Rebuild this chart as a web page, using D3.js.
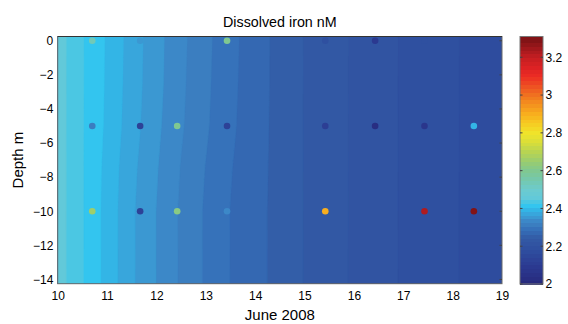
<!DOCTYPE html>
<html><head><meta charset="utf-8">
<script src="https://cdn.jsdelivr.net/npm/d3@7"></script>
<style>
body{margin:0;background:#fff}
text{font-family:"Liberation Sans",Arial,Helvetica,sans-serif;fill:#000}
</style>
</head><body>
<svg id="chart" width="568" height="324"></svg>
<script>
// ---------------- data ----------------
const title = "Dissolved iron nM";
const xLabel = "June 2008";
const yLabel = "Depth m";
const xTicks = [10, 11, 12, 13, 14, 15, 16, 17, 18, 19];
const yTicks = [0, -2, -4, -6, -8, -10, -12, -14];
const cbTicks = [2, 2.2, 2.4, 2.6, 2.8, 3, 3.2];

// background (gridded) field: columns = days, rows = depths
const gridDays = [10, 10.5, 11, 11.5, 12, 12.5, 13, 13.5, 14, 14.5, 15, 15.5, 16, 16.5, 17, 17.5, 18, 18.5, 19];
const gridDepths = [0.25, -2.5, -5, -7.5, -10, -14.25];
const fieldRow0   = [2.457, 2.428, 2.404, 2.377, 2.3525, 2.330, 2.310, 2.290, 2.274, 2.257, 2.243, 2.232, 2.221, 2.211, 2.201, 2.193, 2.185, 2.177, 2.169];
const fieldRow2_5 = [2.457, 2.428, 2.4035, 2.376, 2.352, 2.329, 2.309, 2.289, 2.274, 2.257, 2.243, 2.232, 2.221, 2.211, 2.201, 2.193, 2.185, 2.177, 2.169];
const fieldRow5   = [2.457, 2.428, 2.4025, 2.3745, 2.350, 2.3275, 2.3075, 2.288, 2.273, 2.257, 2.243, 2.232, 2.221, 2.211, 2.201, 2.193, 2.185, 2.177, 2.169];
const fieldRow7_5 = [2.457, 2.428, 2.400, 2.371, 2.347, 2.324, 2.304, 2.2855, 2.272, 2.257, 2.243, 2.232, 2.221, 2.211, 2.201, 2.193, 2.185, 2.177, 2.169];
const fieldRow10  = [2.457, 2.428, 2.399, 2.369, 2.345, 2.322, 2.302, 2.284, 2.271, 2.257, 2.243, 2.232, 2.221, 2.211, 2.201, 2.193, 2.185, 2.177, 2.169];
const fieldRow14  = [2.457, 2.428, 2.399, 2.369, 2.345, 2.322, 2.302, 2.284, 2.271, 2.257, 2.243, 2.232, 2.221, 2.211, 2.201, 2.193, 2.185, 2.177, 2.169];
const fieldRows = [fieldRow0, fieldRow2_5, fieldRow5, fieldRow7_5, fieldRow10, fieldRow14];

// sample points
const stationDays = [10.7, 11.67, 12.42, 13.43, 15.42, 16.43, 17.43, 18.43];
const sampleDepths = [0, -5, -10];
const surfaceFe = [2.53, 2.36, null, 2.59, 2.20, 2.10, 2.20, null];
const midFe     = [2.31, 2.13, 2.60, 2.13, 2.12, 2.03, 2.07, 2.39];
const deepFe    = [2.66, 2.13, 2.62, 2.345, 2.90, null, 3.23, 3.28];
const sampleValues = [surfaceFe, midFe, deepFe];

// colour limits
const cMin = 2, cMax = 3.3, nColors = 64;

// ---------------- style ----------------
const cmapStops = [
  [2.000,"#26287a"],[2.050,"#293287"],[2.100,"#2b3b92"],[2.140,"#2d4498"],
  [2.1727,"#2e4c9e"],[2.1930,"#2f50a0"],[2.2133,"#3154a2"],[2.2336,"#3258a4"],
  [2.2539,"#335ea8"],[2.2742,"#3468b2"],[2.2945,"#3672ba"],[2.3148,"#3b7ec0"],
  [2.3352,"#3c88c8"],[2.3555,"#3b98d2"],[2.3758,"#38a6dc"],[2.3961,"#33b5e6"],
  [2.4164,"#33c5ef"],[2.4367,"#4bc7e3"],[2.4570,"#62c9d9"],[2.500,"#6ccbcf"],
  [2.550,"#74c8b0"],[2.600,"#80c890"],[2.650,"#98cc70"],[2.700,"#b8d452"],
  [2.750,"#d8de3a"],[2.800,"#f0e42a"],[2.850,"#f6cc22"],[2.900,"#f8b01e"],
  [2.950,"#f4921e"],[3.000,"#f07420"],[3.050,"#ee5022"],[3.100,"#ec2c24"],
  [3.150,"#dc2224"],[3.200,"#c41e22"],[3.250,"#a0181c"],[3.300,"#7a1214"]
];
const cmap = d3.scaleLinear().domain(cmapStops.map(d=>d[0])).range(cmapStops.map(d=>d[1])).clamp(true);
const step = (cMax - cMin) / nColors;
const levels = d3.range(nColors).map(i => cMin + i * step);
function bandIndex(v){ return Math.max(0, Math.min(nColors-1, Math.floor((v - cMin)/step + 1e-9))); }
function bandColor(v){ const k = bandIndex(v); return cmap(cMin + (k + 0.5) * step); }

const plot = {left: 57.7, right: 502, top: 36.5, bottom: 283.7};
const cb = {left: 520, right: 543, top: 36.5, bottom: 284};

const x = d3.scaleLinear().domain([10, 19]).range([plot.left, plot.right]);
const y = d3.scaleLinear().domain([-14.25, 0.25]).range([plot.bottom, plot.top]);
const yc = d3.scaleLinear().domain([2, 3.31]).range([cb.bottom, cb.top]);

const svg = d3.select("#chart");

// ---------------- background field ----------------
const nx = Math.round(plot.right - plot.left), ny = Math.round(plot.bottom - plot.top);
const gx = d3.scaleLinear().domain(gridDays).range(d3.range(gridDays.length));
const gy = d3.scaleLinear().domain(gridDepths).range(d3.range(gridDepths.length));
const values = new Float64Array(nx * ny);
for (let j = 0; j < ny; j++) {
  const depth = y.invert(plot.top + (j + 0.5) * (plot.bottom - plot.top) / ny);
  let fy = Math.max(0, Math.min(gridDepths.length - 1, gy(depth)));
  let r0 = Math.min(Math.floor(fy), gridDepths.length - 2), ty = fy - r0;
  for (let i = 0; i < nx; i++) {
    const day = x.invert(plot.left + (i + 0.5) * (plot.right - plot.left) / nx);
    let fx = Math.max(0, Math.min(gridDays.length - 1, gx(day)));
    let c0 = Math.min(Math.floor(fx), gridDays.length - 2), tx = fx - c0;
    const a = fieldRows[r0][c0] * (1 - tx) + fieldRows[r0][c0 + 1] * tx;
    const b = fieldRows[r0 + 1][c0] * (1 - tx) + fieldRows[r0 + 1][c0 + 1] * tx;
    values[j * nx + i] = a * (1 - ty) + b * ty;
  }
}
const contours = d3.contours().size([nx, ny]).thresholds(levels)(values);
const sx = (plot.right - plot.left) / nx, sy = (plot.bottom - plot.top) / ny;
const proj = d3.geoTransform({point(px, py){ this.stream.point(plot.left + px * sx, plot.top + py * sy); }});
const path = d3.geoPath(proj);

svg.append("clipPath").attr("id","clip").append("rect")
  .attr("x", plot.left).attr("y", plot.top)
  .attr("width", plot.right - plot.left).attr("height", plot.bottom - plot.top);

svg.append("g").attr("clip-path","url(#clip)")
  .selectAll("path").data(contours.filter(c => c.coordinates.length)).join("path")
  .attr("d", path)
  .attr("fill", d => bandColor(d.value + step * 0.5))
  .attr("stroke", d => bandColor(d.value + step * 0.5))
  .attr("stroke-width", 0.3);

// ---------------- sample points ----------------
const pts = [];
sampleDepths.forEach((dep, r) => stationDays.forEach((day, c) => {
  const v = sampleValues[r][c];
  if (v != null) pts.push({day, dep, v});
}));
svg.append("g").selectAll("circle").data(pts).join("circle")
  .attr("cx", d => x(d.day)).attr("cy", d => y(d.dep)).attr("r", 3.3)
  .attr("fill", d => bandColor(d.v));

// ---------------- axes ----------------
const fmt = d3.format("~g");
const xAxis = d3.axisBottom(x).tickValues(xTicks).tickSize(0).tickPadding(7.4).tickFormat(fmt);
const yAxis = d3.axisLeft(y).tickValues(yTicks).tickSize(0).tickPadding(4.4).tickFormat(fmt);
const gX = svg.append("g").attr("transform", `translate(0,${plot.bottom})`).call(xAxis);
const gY = svg.append("g").attr("transform", `translate(${plot.left},0)`).call(yAxis);
[gX, gY].forEach(g => { g.select(".domain").remove(); g.selectAll("text").style("font-size","12px").attr("fill","#000"); });

// plot box
svg.append("rect").attr("x", plot.left).attr("y", plot.top)
  .attr("width", plot.right - plot.left).attr("height", plot.bottom - plot.top)
  .attr("fill","none").attr("stroke","#6a6a6a").attr("stroke-width",1);
svg.append("line").attr("x1", plot.left).attr("x2", plot.right).attr("y1", plot.top).attr("y2", plot.top)
  .attr("stroke","#333").attr("stroke-width",1);
svg.append("g").selectAll("line").data(yTicks).join("line")
  .attr("x1", plot.right - 2.5).attr("x2", plot.right).attr("y1", d => y(d)).attr("y2", d => y(d))
  .attr("stroke","#444");

// ---------------- colorbar ----------------
const cbBands = levels.map((lv, k) => ({lo: lv, hi: k === nColors - 1 ? 3.31 : lv + step}));
svg.append("g").attr("shape-rendering","crispEdges").selectAll("rect").data(cbBands).join("rect")
  .attr("x", cb.left).attr("width", cb.right - cb.left)
  .attr("y", d => yc(d.hi)).attr("height", d => yc(d.lo) - yc(d.hi) + 0.6)
  .attr("fill", d => bandColor(d.lo + step * 0.5));
svg.append("rect").attr("x", cb.left).attr("y", cb.top)
  .attr("width", cb.right - cb.left).attr("height", cb.bottom - cb.top)
  .attr("fill","none").attr("stroke","#777").attr("stroke-width",1);
const cAxis = d3.axisRight(yc).tickValues(cbTicks).tickSize(0).tickPadding(2.5).tickFormat(fmt);
const gC = svg.append("g").attr("transform", `translate(${cb.right},0)`).call(cAxis);
gC.select(".domain").remove();
gC.selectAll("text").style("font-size","12px").attr("fill","#000");
const cbTickG = svg.append("g");
cbTickG.selectAll("line.l").data(cbTicks).join("line").attr("class","l")
  .attr("x1", cb.left).attr("x2", cb.left + 2.5).attr("y1", d => yc(d)).attr("y2", d => yc(d)).attr("stroke","#444");
cbTickG.selectAll("line.r").data(cbTicks).join("line").attr("class","r")
  .attr("x1", cb.right - 2.5).attr("x2", cb.right).attr("y1", d => yc(d)).attr("y2", d => yc(d)).attr("stroke","#444");

// ---------------- labels ----------------
svg.append("text").attr("x", (plot.left + plot.right) / 2).attr("y", 26.5)
  .attr("text-anchor","middle").style("font-size","14.3px").text(title);
svg.append("text").attr("x", (plot.left + plot.right) / 2).attr("y", 320)
  .attr("text-anchor","middle").style("font-size","15px").text(xLabel);
svg.append("text").attr("transform", `translate(23,${(plot.top + plot.bottom) / 2}) rotate(-90)`)
  .attr("text-anchor","middle").style("font-size","15px").text(yLabel);
</script>
</body></html>
